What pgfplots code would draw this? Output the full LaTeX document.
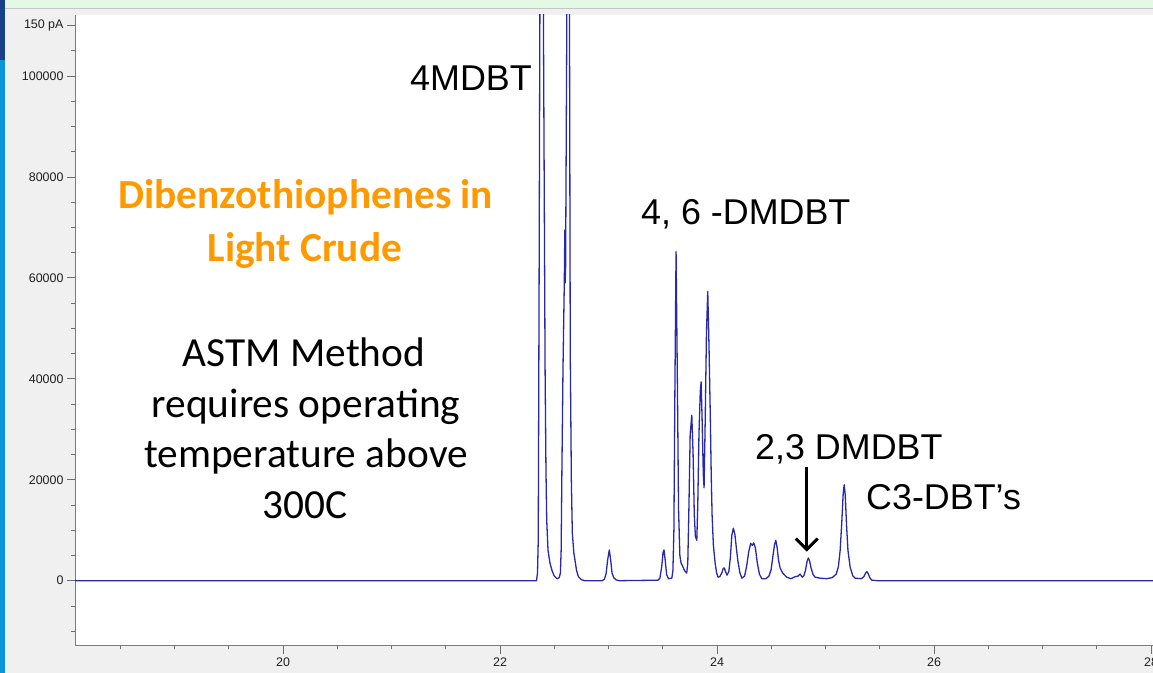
\documentclass[border=0pt]{standalone}
\usepackage{fontspec}
\setmainfont{Liberation Sans}
\newfontfamily\arialf{Liberation Sans}
\newfontfamily\calf{Carlito}
\usepackage{pgfplots}
\pgfplotsset{compat=1.18}
\usetikzlibrary{arrows.meta}
\definecolor{pagebg}{RGB}{240,240,240}
\definecolor{greenband}{RGB}{228,248,230}
\definecolor{stripblue}{RGB}{10,150,214}
\definecolor{stripnavy}{RGB}{25,65,135}
\definecolor{axisgray}{RGB}{125,125,125}
\definecolor{tickgray}{RGB}{110,110,110}
\definecolor{linecol}{RGB}{40,40,170}
\definecolor{orangeT}{RGB}{255,153,0}
\definecolor{labelcol}{RGB}{30,30,30}

\pgfplotstableread{
x y
18.08 0
22.336 0
22.345 1500
22.352 8000
22.360 60000
22.368 120000
22.383 200000
22.400 110000
22.415 42000
22.423 22000
22.430 12000
22.442 6000
22.460 3500
22.479 2000
22.500 900
22.525 400
22.545 600
22.556 1500
22.563 6000
22.570 22000
22.580 42000
22.592 59000
22.597 69500
22.600 59000
22.604 62000
22.615 110000
22.628 170000
22.640 110000
22.647 45000
22.657 20000
22.666 9400
22.680 5500
22.691 4000
22.705 2000
22.722 800
22.750 200
22.780 0
22.940 0
22.962 300
22.978 1500
22.992 4200
23.007 6100
23.020 4000
23.032 1500
23.048 600
23.070 150
23.100 0
23.455 100
23.473 500
23.490 2800
23.502 5600
23.511 6100
23.522 4000
23.535 1200
23.552 400
23.583 500
23.593 2000
23.602 10000
23.612 40000
23.622 65200
23.633 42000
23.645 14000
23.657 5000
23.668 3500
23.680 3000
23.700 2000
23.720 1500
23.730 3500
23.740 14000
23.752 29000
23.767 32800
23.779 25000
23.790 13000
23.800 8800
23.813 8000
23.822 15000
23.833 29000
23.845 37500
23.853 39400
23.862 32000
23.873 21000
23.880 18400
23.890 31000
23.902 49000
23.914 57300
23.926 46000
23.938 32000
23.946 21000
23.954 13000
23.966 7000
23.982 3500
23.995 1600
24.009 700
24.025 800
24.045 1600
24.058 2500
24.067 2500
24.078 1800
24.092 1100
24.108 1800
24.122 4500
24.136 9000
24.150 10400
24.164 9200
24.176 6800
24.191 4000
24.210 1600
24.228 500
24.253 900
24.272 2800
24.292 5800
24.310 7400
24.325 7000
24.338 7500
24.353 6500
24.370 3600
24.390 1300
24.412 400
24.450 400
24.478 900
24.498 2200
24.514 4800
24.530 7200
24.541 8000
24.553 6600
24.566 4100
24.581 2500
24.605 1500
24.641 700
24.680 400
24.720 800
24.745 900
24.765 1300
24.785 700
24.800 1000
24.815 2100
24.830 3900
24.841 4500
24.854 3800
24.866 2500
24.885 1200
24.903 700
24.950 500
25.010 400
25.060 600
25.098 1300
25.118 2800
25.134 6000
25.149 11500
25.162 17200
25.171 19000
25.181 17000
25.193 11000
25.206 6000
25.226 2700
25.250 1000
25.272 500
25.330 400
25.353 800
25.368 1500
25.380 1800
25.393 1400
25.407 600
25.426 100
25.480 0
28.030 0
}\chrom

\begin{document}
\begin{tikzpicture}[x=1bp,y=1bp]
\path[use as bounding box] (0,0) rectangle (1153,673);
\clip (0,0) rectangle (1153,673);
\fill[pagebg] (0,0) rectangle (1153,673);
\fill[greenband] (0,665) rectangle (1153,673);
\draw[gray!45, line width=0.8bp] (0,664.6) -- (1153,664.6);
\fill[stripblue] (0,0) rectangle (4.5,673);
\fill[stripnavy] (0,613) rectangle (4.5,673);
\begin{axis}[
  at={(75bp,27bp)}, anchor=south west,
  scale only axis, width=1078bp, height=631bp,
  xmin=18.083, xmax=28.018, ymin=-12938, ymax=112086,
  scaled x ticks=false, scaled y ticks=false,
  axis background/.style={fill=white},
  axis x line*=bottom, axis y line*=left,
  axis line style={axisgray, line width=1bp, -},
  tick align=outside,
  major tick length=8bp, minor tick length=3.5bp,
  tick style={tickgray, line width=0.8bp},
  xtick={20,22,24,26,28},
  minor xtick={18.5,19,...,28},
  ytick={0,20000,40000,60000,80000,100000,110100},
  yticklabels={0,20000,40000,60000,80000,100000,150 pA},
  minor ytick={-10000,-5000,...,105000},
  xticklabels={20,22,24,26,28},
  tick label style={font=\arialf\fontsize{12.5}{14}\selectfont, text=labelcol},
  /pgf/number format/assume math mode=true,
  clip=true,
]
\addplot[linecol, line width=1.3bp, line join=round] table[x=x,y=y] {\chrom};
\end{axis}
\node[anchor=base west, inner sep=0, font=\arialf\fontsize{36}{40}\selectfont] at (410,582.3) {4MDBT};
\node[anchor=base west, inner sep=0, font=\arialf\fontsize{36}{40}\selectfont] at (641,448) {4, 6 -DMDBT};
\node[anchor=base west, inner sep=0, font=\arialf\fontsize{36}{40}\selectfont] at (755,213) {2,3 DMDBT};
\node[anchor=base west, inner sep=0, font=\arialf\fontsize{36}{40}\selectfont] at (866,163) {C3-DBT’s};
\node[anchor=base, inner sep=0, text=orangeT, font=\calf\bfseries\fontsize{41.5}{50}\selectfont] at (305.8,464.7) {Dibenzothiophenes in};
\node[anchor=base, inner sep=0, text=orangeT, font=\calf\bfseries\fontsize{41.5}{50}\selectfont] at (304.8,411.3) {Light Crude};
\node[anchor=base, inner sep=0, font=\calf\fontsize{41.5}{50}\selectfont] at (304,306.3) {ASTM Method};
\node[anchor=base, inner sep=0, font=\calf\fontsize{41.5}{50}\selectfont] at (306,255.8) {requires operating};
\node[anchor=base, inner sep=0, font=\calf\fontsize{41.5}{50}\selectfont] at (306,205.3) {temperature above};
\node[anchor=base, inner sep=0, font=\calf\fontsize{41.5}{50}\selectfont] at (305,154.8) {300C};
\draw[line width=3bp, -{Straight Barb[length=11bp, width=22bp]}] (806.7,206.3) -- (806.7,121.3);
\end{tikzpicture}
\end{document}
